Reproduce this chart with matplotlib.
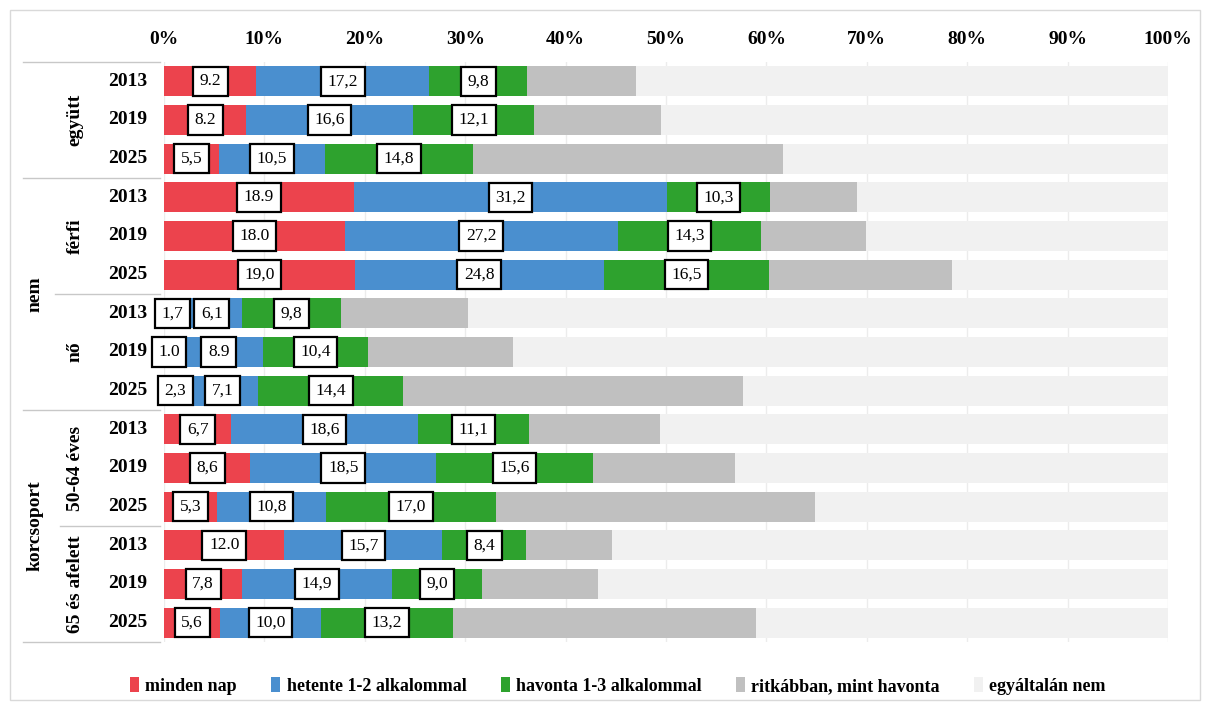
import matplotlib
matplotlib.use("Agg")
import matplotlib.pyplot as plt
import matplotlib.transforms as mtransforms
from matplotlib.patches import Patch, Rectangle
from matplotlib.lines import Line2D
import numpy as np

plt.rcParams['font.family'] = ['Liberation Serif', 'DejaVu Serif']

# ---- data ----
years = ["2013", "2019", "2025"] * 5
subgroups = ["együtt", "férfi", "nő", "50-64 éves", "65 és afelett"]
groups = [("nem", 3, 8), ("korcsoport", 9, 14)]
series_names = ["minden nap", "hetente 1-2 alkalommal", "havonta 1-3 alkalommal",
                "ritkábban, mint havonta", "egyáltalán nem"]
minden_nap = [9.2, 8.2, 5.5, 18.9, 18.0, 19.0, 1.7, 1.0, 2.3, 6.7, 8.6, 5.3, 12.0, 7.8, 5.6]
hetente = [17.2, 16.6, 10.5, 31.2, 27.2, 24.8, 6.1, 8.9, 7.1, 18.6, 18.5, 10.8, 15.7, 14.9, 10.0]
havonta = [9.8, 12.1, 14.8, 10.3, 14.3, 16.5, 9.8, 10.4, 14.4, 11.1, 15.6, 17.0, 8.4, 9.0, 13.2]
ritkabban = [10.8, 12.6, 30.9, 8.6, 10.4, 18.2, 12.7, 14.5, 33.9, 13.0, 14.2, 31.7, 8.5, 11.5, 30.2]
# labels printed with a decimal point instead of comma in the original: (row, series)
dot_labels = {(0, 0), (1, 0), (3, 0), (4, 0), (7, 0), (7, 1), (12, 0)}
x_ticks = [0, 10, 20, 30, 40, 50, 60, 70, 80, 90, 100]

colors = ["#EC434D", "#4A8FCF", "#2EA22E", "#C0C0C0", "#F1F1F1"]

W, H = 1207, 706
fig = plt.figure(figsize=(W / 100, H / 100), dpi=100)
ax_l, ax_r, ax_t, ax_b = 164, 1168, 62, 642
ax = fig.add_axes([ax_l / W, 1 - ax_b / H, (ax_r - ax_l) / W, (ax_b - ax_t) / H])

n = len(years)
y = np.arange(n)
egyaltalan = [100 - a - b - c - d for a, b, c, d in zip(minden_nap, hetente, havonta, ritkabban)]
all_series = [minden_nap, hetente, havonta, ritkabban, egyaltalan]

left = np.zeros(n)
for si, (vals, col) in enumerate(zip(all_series, colors)):
    vals = np.array(vals)
    ax.barh(y, vals, left=left, height=0.78, color=col, edgecolor='none', zorder=2)
    if si < 3:
        for i in range(n):
            txt = f"{vals[i]:.1f}"
            if (i, si) not in dot_labels:
                txt = txt.replace(".", ",")
            ax.text(left[i] + vals[i] / 2, y[i], txt, ha='center', va='center',
                    fontsize=12.5, zorder=4,
                    bbox=dict(boxstyle='square,pad=0.38', fc='white', ec='black', lw=1.6))
    left = left + vals

ax.set_xlim(0, 100)
ax.set_ylim(n - 0.5, -0.5)
ax.xaxis.tick_top()
ax.set_xticks(x_ticks)
ax.set_xticklabels([f"{t}%" for t in x_ticks], fontsize=14, fontweight='bold')
ax.tick_params(axis='x', length=0, pad=10)
ax.set_yticks([])
for s in ax.spines.values():
    s.set_visible(False)
ax.set_axisbelow(True)
ax.grid(axis='x', color='#ECECEC', lw=1, zorder=0)

# category labels
def xfrac(px):
    return (px - ax_l) / (ax_r - ax_l)

tr = mtransforms.blended_transform_factory(ax.transAxes, ax.transData)
for i, yr in enumerate(years):
    ax.text(xfrac(147), i, yr, transform=tr, ha='right', va='center',
            fontsize=14, fontweight='bold')
for k, sg in enumerate(subgroups):
    ax.text(xfrac(75), 3 * k + 1, sg, transform=tr, ha='center', va='center',
            rotation=90, fontsize=14, fontweight='bold')
for name, a, b in groups:
    ax.text(xfrac(35), (a + b) / 2, name, transform=tr, ha='center', va='center',
            rotation=90, fontsize=14, fontweight='bold')

# separator lines on the left
sep = [(0, 23), (3, 23), (6, 55), (9, 23), (12, 60), (15, 23)]
for k, x0 in sep:
    ax.add_line(Line2D([xfrac(x0), xfrac(160)], [k - 0.5, k - 0.5], transform=tr,
                       color='#C8C8C8', lw=1, clip_on=False))

# outer frame
fig.add_artist(Rectangle((10 / W, 6 / H), 1190 / W, 1 - 16 / H, transform=fig.transFigure,
                         fill=False, ec='#D9D9D9', lw=1))

handles = [Patch(facecolor=c, edgecolor='none', label=l) for c, l in zip(colors, series_names)]
fig.legend(handles=handles, loc='center', bbox_to_anchor=(0.512, 1 - 686 / H), ncol=5,
           frameon=False, prop={'size': 13, 'weight': 'bold'},
           handlelength=0.5, handleheight=0.9, handletextpad=0.35, columnspacing=1.9)

fig.savefig("out.png", dpi=100)
